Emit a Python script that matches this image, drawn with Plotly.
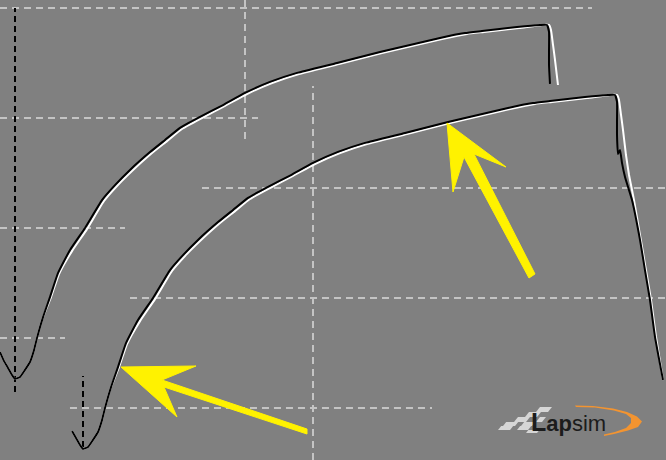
import plotly.graph_objects as go

# ---------------- data: two laps (distance in m, speed in km/h) ----------------
dist_black = [-32.6, -23.9, -15.2, -6.5, 0.0, 10.9, 21.7, 32.6, 41.3, 47.8, 60.9, 76.1, 93.5,
              119.6, 152.2, 189.1, 217.4, 250.0, 293.5, 326.1, 358.7, 402.2, 452.2, 500.0,
              554.3, 613.0, 700.0, 793.5, 858.7, 923.9, 978.3, 1015.2, 1091.3, 1141.3, 1156.5,
              1160.9, 1160.9, 1160.9, 1163.0, 1167.4, 1171.7, 1178.3, 1184.8, 1193.5, 1210.9,
              1221.7, 1232.6, 1243.5, 1260.9]
speed_black = [43.6, 39.5, 36.4, 33.2, 31.4, 32.3, 35.5, 39.1, 44.5, 50.0, 59.5, 68.6, 79.5,
               90.0, 100.0, 112.7, 119.5, 126.4, 134.5, 140.0, 145.5, 150.5, 155.9, 161.4,
               166.4, 170.5, 175.0, 180.0, 183.2, 186.4, 188.6, 189.5, 191.4, 192.3, 192.3,
               189.1, 180.9, 174.1, 165.5, 167.3, 161.4, 155.0, 150.5, 144.5, 126.4,
               112.7, 99.1, 82.3, 62.7]

dist_white = [-32.6, -23.9, -15.2, -6.5, 0.0, 10.9, 21.7, 32.6, 41.3, 47.8, 60.9, 78.3, 95.7,
              123.9, 156.5, 193.5, 221.7, 254.3, 297.8, 330.4, 363.0, 406.5, 456.5, 504.3,
              558.7, 617.4, 704.3, 797.8, 863.0, 928.3, 982.6, 1019.6, 1095.7, 1145.7, 1160.9,
              1165.2, 1169.6, 1173.9, 1180.4, 1187.0, 1193.5, 1197.8, 1210.9, 1223.9, 1234.8,
              1245.7, 1260.9]
speed_white = [43.6, 39.5, 36.4, 33.2, 31.4, 32.3, 35.5, 39.1, 44.5, 50.0, 59.5, 68.6, 79.1,
               89.5, 99.5, 112.3, 119.1, 125.9, 134.1, 139.5, 145.0, 150.0, 155.5, 160.9,
               165.9, 170.0, 174.5, 179.5, 182.7, 185.9, 188.2, 189.1, 190.9, 192.3, 192.3,
               190.0, 183.2, 176.4, 165.0, 155.9, 149.1, 144.5, 128.6, 112.7, 99.1,
               82.3, 62.7]

# visible windows of the two overlaid copies of the chart
UPPER_END_BLACK = 1163.0
UPPER_END_WHITE = 1181.0
LOWER_START = -24.0

# grid (speed lines in km/h, distance line in m) and their visible extents
grid_upper_h = [(200, -32.6, 1254.3), (150, -32.6, 528.3), (100, -32.6, 239.1), (50, -32.6, 108.7)]
grid_upper_v = [(500, 140.5, 203.6)]
marker_upper = [(0, 25.5, 200.0)]
grid_lower_h = [(150, 258.7, 1267.4), (100, 102.2, 1267.4), (50, -28.3, 758.7)]
grid_lower_v = [(500, 26.4, 196.4)]
marker_lower = [(0, 32.3, 64.5)]

# ---------------- layout constants ----------------
W, H = 666, 460
PX_PER_M = 230 / 500
PX_PER_KMH = 2.2
ORIGIN_UP = (15, 448)     # pixel of (0 m, 0 km/h) in the upper copy
SHIFT = (68, 70)          # offset of the lower copy
BG = "#808080"
GRID = "#c4c4c4"


def ranges(ox, oy):
    xr = [(0 - ox) / PX_PER_M, (W - ox) / PX_PER_M]
    yr = [(oy - H) / PX_PER_KMH, oy / PX_PER_KMH]
    return xr, yr


xr1, yr1 = ranges(*ORIGIN_UP)
xr2, yr2 = ranges(ORIGIN_UP[0] + SHIFT[0], ORIGIN_UP[1] + SHIFT[1])

fig = go.Figure()


def add_lap(d, s, color, xa, ya, lo, hi):
    xs = [a for a, b in zip(d, s) if lo <= a <= hi]
    ys = [b for a, b in zip(d, s) if lo <= a <= hi]
    fig.add_trace(go.Scatter(x=xs, y=ys, mode="lines", xaxis=xa, yaxis=ya,
                             line=dict(color=color, width=2, shape="spline", smoothing=0.4),
                             hoverinfo="skip", showlegend=False))


add_lap(dist_white, speed_white, "white", "x", "y", -1e9, UPPER_END_WHITE)
add_lap(dist_black, speed_black, "black", "x", "y", -1e9, UPPER_END_BLACK)
add_lap(dist_white, speed_white, "white", "x2", "y2", LOWER_START, 1e9)
add_lap(dist_black, speed_black, "black", "x2", "y2", LOWER_START, 1e9)

shapes = []


def hline(spec, xref, yref):
    for s, a, b in spec:
        shapes.append(dict(type="line", xref=xref, yref=yref, x0=a, x1=b, y0=s, y1=s,
                           line=dict(color=GRID, width=2, dash="7px,5px"), layer="below"))


def vline(spec, xref, yref, color, dash):
    for d, a, b in spec:
        shapes.append(dict(type="line", xref=xref, yref=yref, x0=d, x1=d, y0=a, y1=b,
                           line=dict(color=color, width=2, dash=dash), layer="below"))


hline(grid_upper_h, "x", "y")
vline(grid_upper_v, "x", "y", GRID, "7px,5px")
vline(marker_upper, "x", "y", "black", "6px,4px")
hline(grid_lower_h, "x2", "y2")
vline(grid_lower_v, "x2", "y2", GRID, "7px,5px")
vline(marker_lower, "x2", "y2", "black", "6px,4px")


def ppath(pts):
    return "M " + " L ".join(f"{x / W:.5f},{1 - y / H:.5f}" for x, y in pts) + " Z"


# yellow arrows (annotation overlay, screen pixels)
arrow1 = [(121, 367), (196, 366), (162, 380), (307, 429), (307, 434), (164, 387), (177, 417)]
arrow2 = [(447, 123), (506, 167), (474, 154), (535, 274), (529, 278), (464, 157), (453, 192)]
for poly in (arrow1, arrow2):
    shapes.append(dict(type="path", xref="paper", yref="paper", path=ppath(poly),
                       fillcolor="#fff200", line=dict(color="#fff200", width=1), layer="above"))

# logo: checkered flag pieces and orange swoosh
checks = [(536, 407, 12, 5), (525, 412, 12, 5), (514, 417, 12, 5), (536, 417, 6, 5),
          (503, 422, 12, 4), (521, 422, 11, 4), (498, 426, 12, 4), (517, 426, 11, 4),
          (526, 430, 11, 3)]
for x, y, w, h in checks:
    sl = h * 0.8
    shapes.append(dict(type="path", xref="paper", yref="paper",
                       path=ppath([(x + sl, y), (x + w + sl, y), (x + w, y + h), (x, y + h)]),
                       fillcolor="#d6d6d6", line=dict(width=0), layer="above"))
swoosh = [(575, 405.5), (593, 406), (613, 408.5), (627, 412), (637, 416.5), (642, 421.5),
          (638, 427), (628, 430.5), (614, 434), (604, 436), (604, 434.5), (615, 432),
          (626, 428), (631, 423), (631, 418), (626, 414), (614, 410.5), (595, 407.5), (576, 407)]
shapes.append(dict(type="path", xref="paper", yref="paper", path=ppath(swoosh),
                   fillcolor="#f39430", line=dict(width=0), layer="above"))

fig.update_layout(
    width=W, height=H, margin=dict(l=0, r=0, t=0, b=0),
    paper_bgcolor=BG, plot_bgcolor=BG, showlegend=False,
    xaxis=dict(range=xr1, visible=False, fixedrange=True),
    yaxis=dict(range=yr1, visible=False, fixedrange=True),
    xaxis2=dict(range=xr2, visible=False, overlaying="x", fixedrange=True),
    yaxis2=dict(range=yr2, visible=False, overlaying="y", fixedrange=True),
    shapes=shapes,
    annotations=[dict(xref="paper", yref="paper", x=529 / W, y=1 - 422 / H,
                      xanchor="left", yanchor="middle", showarrow=False,
                      text="<b><span style='font-size:25px'>L</span>ap</b>sim",
                      font=dict(family="Liberation Sans", size=22, color="#1c1c1c"))],
)

fig.write_html("out.html", config={"displayModeBar": False},
               post_script="document.body.style.margin='0';"
                           "document.body.style.background='#808080';")
